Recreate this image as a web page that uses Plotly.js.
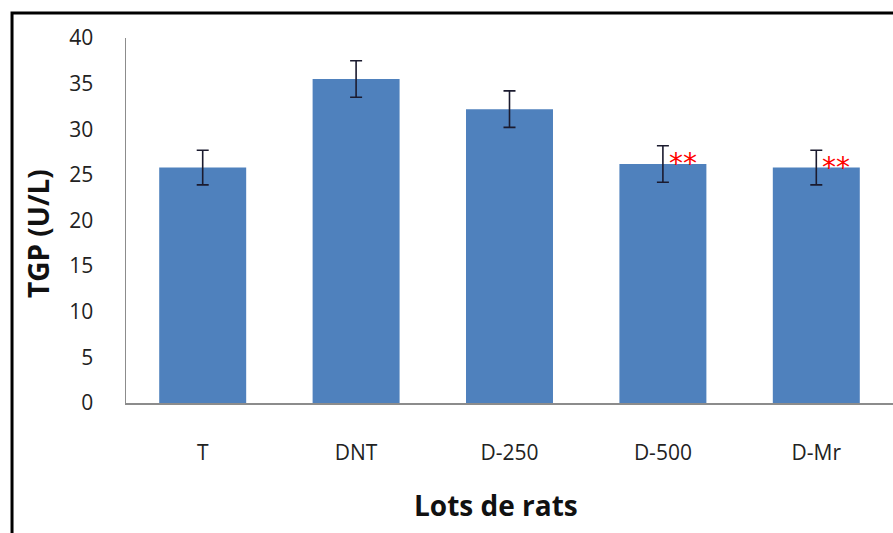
<!DOCTYPE html>
<html><head><meta charset="utf-8">
<script src="https://cdn.plot.ly/plotly-3.0.1.min.js"></script>
<style>html,body{margin:0;padding:0;background:#fff}#c{width:893px;height:533px}</style>
</head><body><div id="c"></div>
<script>
const categories = ["T", "DNT", "D-250", "D-500", "D-Mr"];
const values = [25.8, 35.5, 32.2, 26.2, 25.8];
const errors = [1.9, 2.0, 2.0, 2.0, 1.9];
const significance = ["", "", "", "**", "**"];
const yTicks = [0, 5, 10, 15, 20, 25, 30, 35, 40];
const xTitle = "Lots de rats";
const yTitle = "TGP (U/L)";

const trace = {
  type: "bar", x: categories, y: values,
  marker: {color: "#4F81BD"},
  error_y: {type: "data", array: errors, visible: true, color: "#1b1b2f", thickness: 1.6, width: 6},
  hoverinfo: "skip"
};
const annotations = categories.map((c, i) => ({
  x: c, y: values[i], text: significance[i], showarrow: false,
  xanchor: "left", yanchor: "middle", xshift: 4, yshift: 0,
  font: {family: "DejaVu Sans, sans-serif", size: 28, color: "#ff0000"}
})).filter(a => a.text);
annotations.push({
  xref: "paper", yref: "paper", x: 0.4824, y: -0.2795, text: "<b>" + xTitle + "</b>",
  showarrow: false, xanchor: "center", yanchor: "middle",
  font: {family: "Open Sans, sans-serif", size: 28, color: "#111"}
});
annotations.push({
  xref: "paper", yref: "paper", x: -0.1147, y: 0.463, text: "<b>" + yTitle + "</b>",
  showarrow: false, xanchor: "center", yanchor: "middle", textangle: -90,
  font: {family: "Open Sans, sans-serif", size: 28, color: "#111"}
});

const layout = {
  width: 893, height: 533,
  margin: {l: 126, r: 0, t: 38, b: 130},
  paper_bgcolor: "#fff", plot_bgcolor: "#fff",
  showlegend: false, bargap: 0.433,
  font: {family: "Open Sans, sans-serif", color: "#222"},
  xaxis: {
    showline: true, linecolor: "#8c8c8c", linewidth: 1.5, ticks: "", showgrid: false,
    tickfont: {size: 21, color: "#222"}, ticklabelstandoff: 30
  },
  yaxis: {
    range: [0, 40], tickvals: yTicks, showline: true, linecolor: "#8c8c8c", linewidth: 1.5,
    ticks: "", showgrid: false, zeroline: false,
    tickfont: {size: 21, color: "#222"}, ticklabelstandoff: 27
  },
  annotations: annotations,
  shapes: [{
    type: "rect", xref: "paper", yref: "paper",
    x0: -0.1486, x1: 1.05, y0: -0.5, y1: 1.0685,
    line: {color: "#000", width: 3}, fillcolor: "rgba(0,0,0,0)", layer: "above"
  }]
};
Plotly.newPlot("c", [trace], layout, {staticPlot: true, displayModeBar: false});
</script></body></html>
